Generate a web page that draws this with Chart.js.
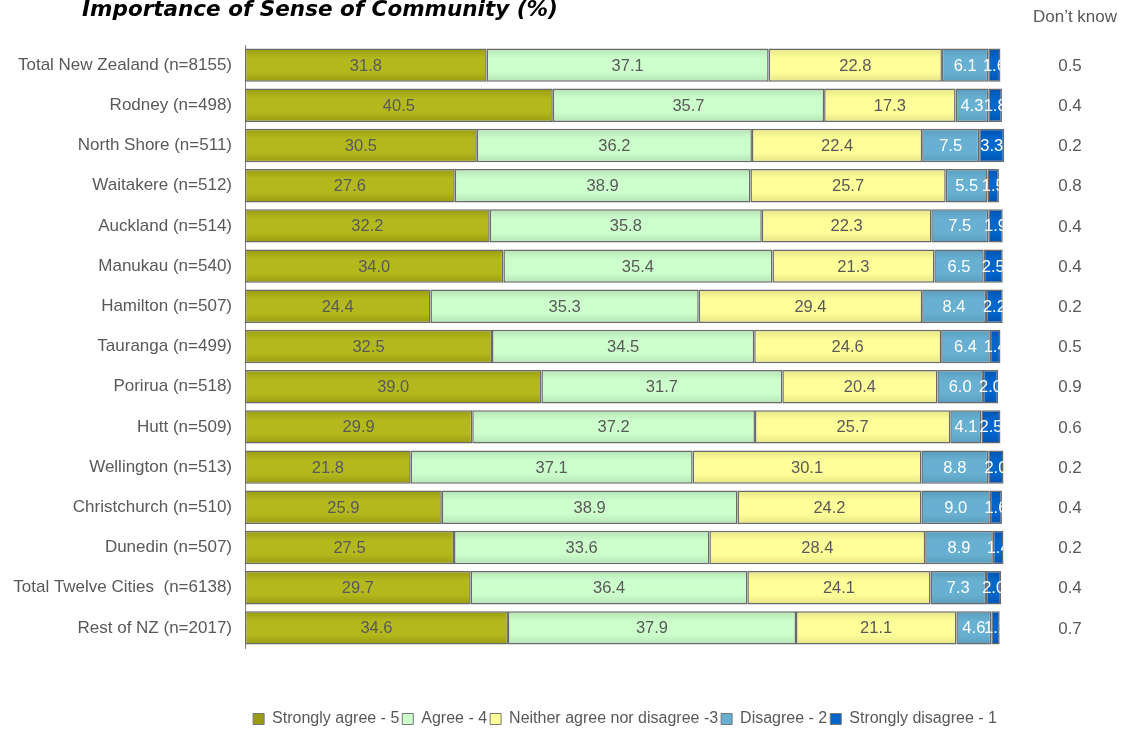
<!DOCTYPE html>
<html>
<head>
<meta charset="utf-8">
<title>Importance of Sense of Community (%)</title>
<script src="https://cdn.jsdelivr.net/npm/chart.js@4/dist/chart.umd.min.js"></script>
<style>
  html, body { margin: 0; padding: 0; background: #fff; }
  #wrap { width: 1122px; height: 731px; }
</style>
</head>
<body>
<div id="wrap"><canvas id="senseChart" width="1122" height="731"></canvas></div>
<script>
// Dữ liệu (%)
const categories = [
  'Total New Zealand (n=8155)', 'Rodney (n=498)', 'North Shore (n=511)', 'Waitakere (n=512)',
  'Auckland (n=514)', 'Manukau (n=540)', 'Hamilton (n=507)', 'Tauranga (n=499)',
  'Porirua (n=518)', 'Hutt (n=509)', 'Wellington (n=513)', 'Christchurch (n=510)',
  'Dunedin (n=507)', 'Total Twelve Cities  (n=6138)', 'Rest of NZ (n=2017)'
];
const stronglyAgree    = [31.8, 40.5, 30.5, 27.6, 32.2, 34.0, 24.4, 32.5, 39.0, 29.9, 21.8, 25.9, 27.5, 29.7, 34.6];
const agree            = [37.1, 35.7, 36.2, 38.9, 35.8, 35.4, 35.3, 34.5, 31.7, 37.2, 37.1, 38.9, 33.6, 36.4, 37.9];
const neither          = [22.8, 17.3, 22.4, 25.7, 22.3, 21.3, 29.4, 24.6, 20.4, 25.7, 30.1, 24.2, 28.4, 24.1, 21.1];
const disagree         = [6.1, 4.3, 7.5, 5.5, 7.5, 6.5, 8.4, 6.4, 6.0, 4.1, 8.8, 9.0, 8.9, 7.3, 4.6];
const stronglyDisagree = [1.6, 1.8, 3.3, 1.5, 1.9, 2.5, 2.2, 1.4, 2.0, 2.5, 2.0, 1.6, 1.4, 2.0, 1.1];
const dontKnow         = [0.5, 0.4, 0.2, 0.8, 0.4, 0.4, 0.2, 0.5, 0.9, 0.6, 0.2, 0.4, 0.2, 0.4, 0.7];

const seriesNames = ['Strongly agree - 5', 'Agree - 4', 'Neither agree nor disagree -3', 'Disagree - 2', 'Strongly disagree - 1'];
const seriesValues = [stronglyAgree, agree, neither, disagree, stronglyDisagree];
// màu: [mép, giữa]
const seriesColors = [
  ['#9a9b10', '#b3b91d'],
  ['#b6e2b6', '#ccffcc'],
  ['#e4e486', '#ffff99'],
  ['#5a9dbd', '#68b0d2'],
  ['#0052b0', '#0066cc']
];

const textGray = '#595959';
const barPct = 0.83;

// Tô gradient dọc cho từng thanh
function barFill(edge, mid) {
  return (c) => {
    const chart = c.chart;
    const y = chart.scales.y;
    if (c.type !== 'data' || !y) return mid;
    const center = y.getPixelForValue(c.dataIndex);
    const half = (y.height / categories.length) * barPct / 2;
    const g = chart.ctx.createLinearGradient(0, center - half, 0, center + half);
    g.addColorStop(0, edge);
    g.addColorStop(0.3, mid);
    g.addColorStop(0.7, mid);
    g.addColorStop(1, edge);
    return g;
  };
}

// Tiêu đề + cột "Don't know"
const extraText = {
  id: 'extraText',
  afterDraw(chart) {
    const ctx = chart.ctx;
    const y = chart.scales.y;
    ctx.save();
    ctx.fillStyle = '#000';
    ctx.font = 'italic bold 21.5px "DejaVu Sans"';
    ctx.textAlign = 'center';
    ctx.textBaseline = 'middle';
    ctx.fillText('Importance of Sense of Community (%)', 320, 10);

    ctx.fillStyle = textGray;
    ctx.font = '17px "Liberation Sans"';
    ctx.fillText('Don\u2019t know', 1075, 17);
    dontKnow.forEach((v, j) => {
      ctx.fillText(v.toFixed(1), 1070, y.getPixelForValue(j) + 1);
    });
    ctx.restore();
  }
};

// Nhãn giá trị trên thanh, cắt theo chiều dài cả hàng
const barLabels = {
  id: 'barLabels',
  afterDatasetsDraw(chart) {
    const ctx = chart.ctx;
    const area = chart.chartArea;
    const lastMeta = chart.getDatasetMeta(seriesValues.length - 1);
    ctx.save();
    ctx.font = '16.5px "Liberation Sans"';
    ctx.textAlign = 'center';
    ctx.textBaseline = 'middle';
    categories.forEach((cat, j) => {
      const end = lastMeta.data[j];
      ctx.save();
      ctx.beginPath();
      ctx.rect(area.left, end.y - 20, end.x - area.left, 40);
      ctx.clip();
      seriesValues.forEach((vals, i) => {
        const bar = chart.getDatasetMeta(i).data[j];
        ctx.fillStyle = i < 3 ? textGray : '#ffffff';
        ctx.fillText(vals[j].toFixed(1), (bar.x + bar.base) / 2, bar.y + 1);
      });
      ctx.restore();
    });
    ctx.restore();
  }
};

const chart = new Chart(document.getElementById('senseChart'), {
  type: 'bar',
  data: {
    labels: categories,
    datasets: seriesValues.map((vals, i) => ({
      label: seriesNames[i],
      data: vals,
      backgroundColor: barFill(seriesColors[i][0], seriesColors[i][1]),
      borderColor: '#6a6a6a',
      borderWidth: 1.5,
      borderSkipped: false,
      barPercentage: barPct,
      categoryPercentage: 1
    }))
  },
  options: {
    indexAxis: 'y',
    responsive: false,
    animation: false,
    devicePixelRatio: 1,
    layout: {
      padding: { top: 45, right: 117, bottom: -6, left: 0 }
    },
    scales: {
      x: {
        stacked: true,
        min: 0,
        max: 100,
        display: true,
        grid: { display: false, drawTicks: false },
        border: { display: false },
        ticks: { display: false },
        afterFit: (scale) => { scale.height = 60; }
      },
      y: {
        stacked: true,
        grid: { display: false, drawTicks: false },
        border: { display: true, color: '#808080', width: 1 },
        ticks: {
          color: textGray,
          padding: 13,
          font: { family: '"Liberation Sans"', size: 17 }
        },
        afterFit: (scale) => { scale.width = 245; }
      }
    },
    plugins: {
      title: { display: false },
      tooltip: { enabled: false },
      legend: {
        display: true,
        position: 'bottom',
        fullSize: false,
        labels: {
          color: textGray,
          boxWidth: 11,
          boxHeight: 11,
          padding: 3,
          font: { family: '"Liberation Sans"', size: 16 },
          generateLabels: () => seriesNames.map((name, i) => ({
            text: name,
            fillStyle: seriesColors[i][i === 0 ? 0 : 1],
            strokeStyle: '#777777',
            lineWidth: 1,
            fontColor: textGray,
            datasetIndex: i
          }))
        }
      }
    }
  },
  plugins: [barLabels, extraText]
});
</script>
</body>
</html>
